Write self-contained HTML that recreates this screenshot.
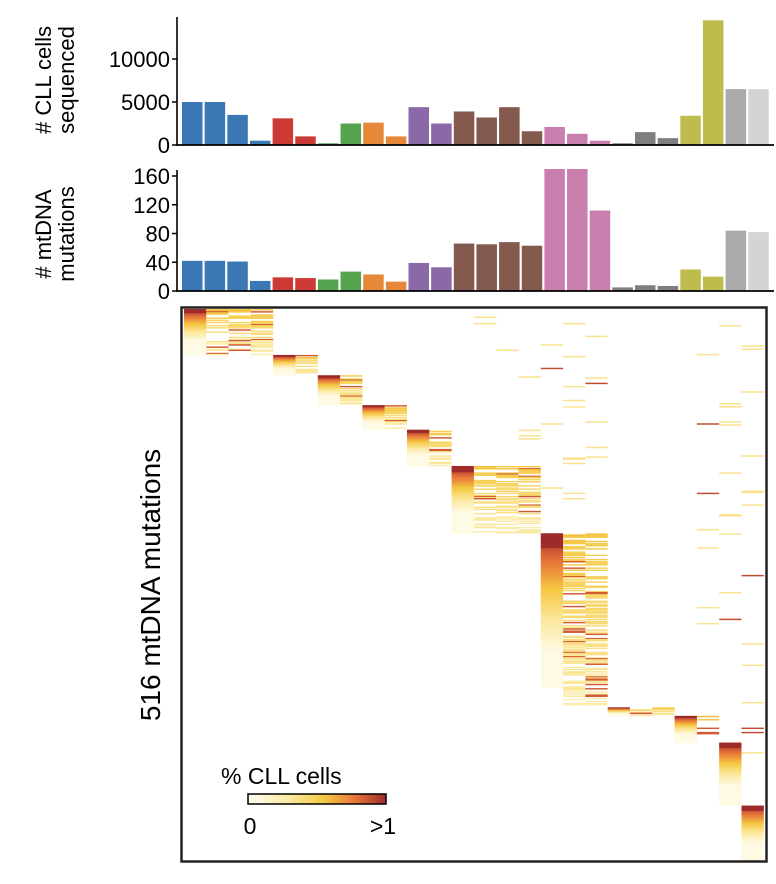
<!DOCTYPE html>
<html><head><meta charset="utf-8">
<style>
body{margin:0;background:#fff;}
svg{display:block;font-family:"Liberation Sans",Arial,sans-serif;}
</style></head>
<body>
<svg id="chart" width="776" height="884" viewBox="0 0 776 884" xmlns="http://www.w3.org/2000/svg">
<g id="top"></g>
<g id="mid"></g>
<g id="heat"></g>
<text transform="translate(56,80) rotate(-90)" text-anchor="middle" font-size="22">
<tspan x="0" dy="-5"># CLL cells</tspan><tspan x="0" dy="23">sequenced</tspan></text>
<text transform="translate(56,234) rotate(-90)" text-anchor="middle" font-size="22">
<tspan x="0" dy="-5"># mtDNA</tspan><tspan x="0" dy="23">mutations</tspan></text>
<text transform="translate(160,585) rotate(-90)" text-anchor="middle" font-size="28">516 mtDNA mutations</text>
<g>
<defs><linearGradient id="cg" x1="0" x2="1" y1="0" y2="0">
<stop offset="0" stop-color="#fffdf0"/><stop offset="0.3" stop-color="#fbe9a0"/><stop offset="0.55" stop-color="#f5c842"/><stop offset="0.78" stop-color="#e7743a"/><stop offset="1" stop-color="#9e2a2b"/></linearGradient></defs>
<text x="221" y="784" font-size="23">% CLL cells</text>
<rect x="248" y="794" width="138" height="10" fill="url(#cg)" stroke="#000" stroke-width="1.5"/>
<text x="250" y="834" font-size="23" text-anchor="middle">0</text>
<text x="383" y="834" font-size="23" text-anchor="middle">&gt;1</text>
</g>
</svg>
<script>
const colors = ["#3a78b5","#3a78b5","#3a78b5","#3a78b5","#cc3a35","#cc3a35","#56a34f","#56a34f","#e7873a","#e7873a","#8b68a8","#8b68a8","#845a4f","#845a4f","#845a4f","#845a4f","#c97fae","#c97fae","#c97fae","#7f7f7f","#7f7f7f","#7f7f7f","#bebc4c","#bebc4c","#aaaaaa","#d4d4d4"];
const cellsSeq = [5000,5000,3500,500,3100,1000,200,2500,2600,1000,4400,2500,3900,3200,4400,1600,2100,1300,500,200,1500,800,3400,14500,6500,6500];
const mutCounts = [42,42,41,14,19,18,16,27,23,13,39,33,66,65,68,63,170,170,112,5,8,7,30,20,84,82];
const topTicks = [0,5000,10000];
const midTicks = [0,40,80,120,160];
// heatmap groups: first column, number of columns, start row, end row
const groupCol = [0,4,6,8,10,12,16,19,22,24,25];
const groupN = [4,2,2,2,2,4,3,3,2,1,1];
const groupR0 = [0,43,62,90,113,147,210,373,381,406,465];
const groupR1 = [43,62,90,113,147,210,373,381,406,465,516];
const nRows = 516;

const NS="http://www.w3.org/2000/svg";
function mk(parent,tag,attrs){const e=document.createElementNS(NS,tag);for(const k in attrs)e.setAttribute(k,attrs[k]);parent.appendChild(e);return e;}
const x0=182, pitch=22.65, bw=20.5;
const xb=i=>x0+i*pitch;
function barChart(gid,vals,ticks,zeroY,pxPer,topY,name){
  const g=document.getElementById(gid);
  vals.forEach((v,i)=>{
    const h=Math.min(v*pxPer,zeroY-topY+1);
    const r=mk(g,'rect',{x:xb(i),y:zeroY-h,width:bw,height:h,fill:colors[i]});
    
    
  });
  const ax=mk(g,'line',{x1:177,x2:177,y1:topY,y2:zeroY,stroke:'#000','stroke-width':1.6});
  
  
  const bx=mk(g,'line',{x1:176,x2:774,y1:zeroY,y2:zeroY,stroke:'#000','stroke-width':1.8});
  
  
  ticks.forEach(t=>{
    const y=zeroY-t*pxPer;
    mk(g,'line',{x1:172,x2:177,y1:y,y2:y,stroke:'#000','stroke-width':1.5});
    const tx=mk(g,'text',{x:170,y:y+8,'text-anchor':'end','font-size':22});
    tx.textContent=t;
    
    
  });
}
barChart('top',cellsSeq,topTicks,145,43/5000,17,'cells');
barChart('mid',mutCounts,midTicks,291,(291-176)/160,170,'mutations');

// heatmap
const hg=document.getElementById('heat');
const hx0=184, hp=22.3, hy0=309, rh=551/nRows;
const stops=[[0,[255,253,240]],[0.3,[251,233,160]],[0.55,[245,200,66]],[0.78,[231,116,58]],[1,[158,42,43]]];
function col(v){v=Math.max(0,Math.min(1,v));for(let i=1;i<stops.length;i++){if(v<=stops[i][0]){const a=stops[i-1],b=stops[i],t=(v-a[0])/(b[0]-a[0]);return 'rgb('+a[1].map((c,k)=>Math.round(c+(b[1][k]-c)*t)).join(',')+')';}}return 'rgb(158,42,43)';}
function hsh(r,c){let h=(r*374761393+c*668265263)>>>0;h=((h^(h>>>13))*1274126177)>>>0;return ((h^(h>>>16))>>>0)/4294967296;}
function cell(c,r,v){mk(hg,'rect',{x:hx0+c*hp,y:hy0+r*rh,width:hp,height:rh+0.4,fill:col(v)});}
groupCol.forEach((c0,g)=>{
  const r0=groupR0[g],r1=groupR1[g],n=r1-r0;
  for(let k=0;k<groupN[g];k++){
    const c=c0+k;
    for(let r=r0;r<r1;r++){
      const t=(r-r0)/n;
      if(k===0){
        if(g===6&&t>0.88)continue;
        cell(c,r,Math.max(0.05,1-t*1.4+(t<0.08?0.3:0)));
      }else{
        const h=hsh(r,c);
        if(h<0.45)continue;
        if(g===8&&h<0.9)continue;
        cell(c,r,h>0.93?0.85:(0.45-t*0.3+h*0.15));
      }
    }
  }
});
// sparse off-diagonal mutations
for(let c=0;c<26;c++){
  for(let r=0;r<nRows;r++){
    let g=0;while(g<groupCol.length-1&&c>=groupCol[g+1])g++;
    if(r>=groupR0[g]&&r<groupR1[g])continue;
    const h=hsh(r+7,c+31);
    let p=0;
    if(c>=16&&c<=18&&r<210)p=0.035;
    if(c>=23&&r<groupR0[g])p=0.025;
    if(c>=13&&c<=15&&r<147)p=0.008;
    if(h<p)cell(c,r,hsh(r,c+3)>0.88?0.9:0.35);
  }
}
const fr=mk(hg,'rect',{x:181.5,y:307.5,width:585,height:554,fill:'none',stroke:'#222','stroke-width':2.5});


</script>
</body></html>
